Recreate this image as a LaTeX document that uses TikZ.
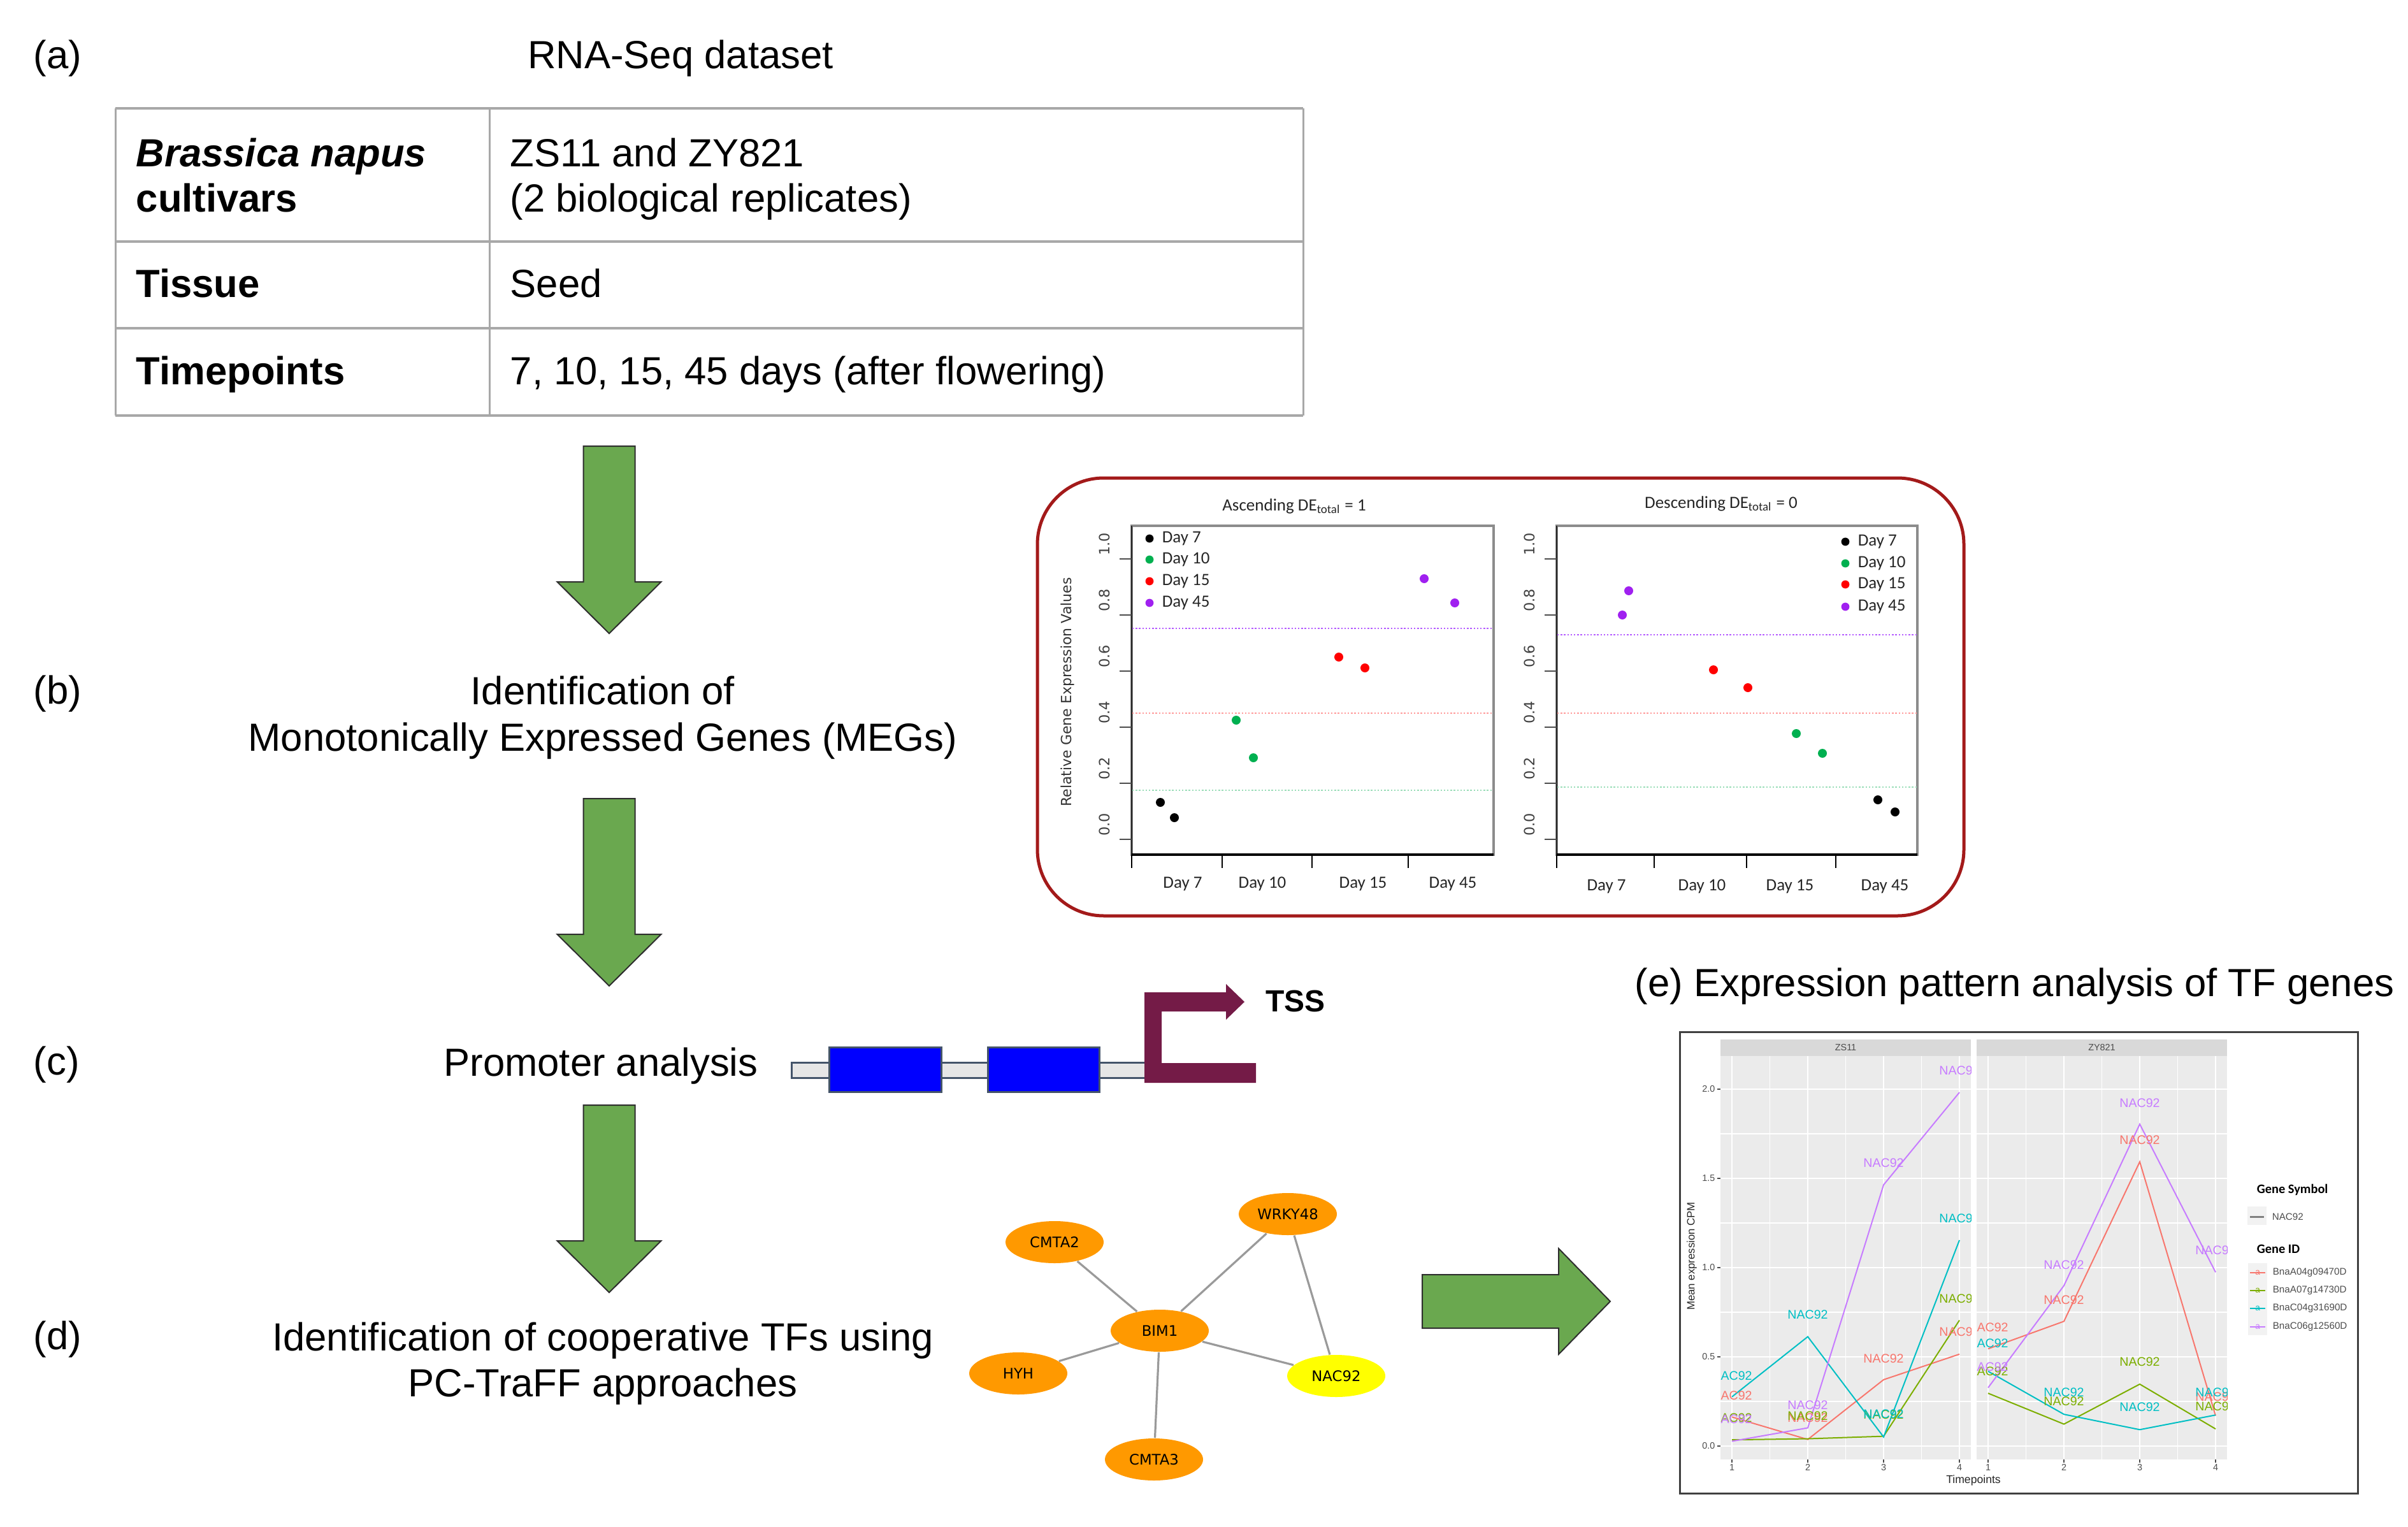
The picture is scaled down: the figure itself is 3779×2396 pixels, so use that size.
\documentclass[tikz,border=0pt]{standalone}
\usepackage{fontspec}
\setmainfont{Liberation Sans}
\newfontfamily\carl{Carlito}
\newfontfamily\dejav{DejaVu Sans}
\usetikzlibrary{shapes.geometric}
\definecolor{agreen}{HTML}{6AA84F}
\definecolor{aedge}{HTML}{2E2E2E}
\definecolor{tabgray}{HTML}{A8A8A8}
\definecolor{tssred}{HTML}{741B47}
\definecolor{slate}{HTML}{44546A}
\definecolor{bargray}{HTML}{E6E6E6}
\definecolor{tforange}{HTML}{FF9900}
\definecolor{tfyellow}{HTML}{FFFF00}
\definecolor{edgegray}{HTML}{9A9A9A}
\definecolor{frred}{HTML}{A31A1A}
\definecolor{dgreen}{HTML}{00B050}
\definecolor{dpurple}{HTML}{A020F0}
\definecolor{dred}{HTML}{FF0000}
\definecolor{lpurple}{HTML}{B45CFF}
\definecolor{lred}{HTML}{FF9A9A}
\definecolor{lgreen}{HTML}{9ADDB8}
\definecolor{panelgray}{HTML}{EBEBEB}
\definecolor{stripgray}{HTML}{D9D9D9}
\definecolor{gred}{HTML}{F8766D}
\definecolor{ggreen}{HTML}{7CAE00}
\definecolor{gcyan}{HTML}{00BFC4}
\definecolor{gpurple}{HTML}{C77CFF}
\definecolor{axgray}{HTML}{4D4D4D}
\definecolor{keygray}{HTML}{F2F2F2}
\newcommand\gdownarrow[2]{\draw[garrow] ({#1-40.5},#2) -- ({#1+40.5},#2) -- ({#1+40.5},{#2+213}) -- ({#1+81.5},{#2+213}) -- (#1,{#2+294}) -- ({#1-81.5},{#2+213}) -- ({#1-40.5},{#2+213}) -- cycle;}
\begin{document}
\begin{tikzpicture}[x=0.25pt,y=-0.25pt,
  txt/.style={font=\fontsize{15.4}{18}\selectfont, inner sep=0pt, anchor=base west},
  ctxt/.style={font=\fontsize{15.4}{18}\selectfont, inner sep=0pt, anchor=base},
  tb/.style={font=\fontsize{15.4}{18}\selectfont\bfseries, inner sep=0pt, anchor=base west},
  tline/.style={draw=tabgray, line width=0.75pt},
  hline/.style={draw=tabgray, line width=1pt},
  garrow/.style={fill=agreen, draw=aedge, line width=0.5pt, line join=miter},
  tf/.style={ellipse, fill=tforange, minimum width=38.5pt, minimum height=16.5pt, inner sep=0pt, font=\dejav\fontsize{5.7}{6}\selectfont},
  tfedge/.style={draw=edgegray, line width=0.8pt},
  cfont/.style={font=\carl\fontsize{6.75}{8}\selectfont, text=black!85, inner sep=0pt},
  ytk/.style={font=\dejav\fontsize{5.6}{6}\selectfont, text=black!75, inner sep=0pt, rotate=90},
  dotl/.style={line width=0.6pt, dash pattern=on 0.6pt off 0.7pt},
  pbox/.style={draw=black!45, line width=0.9pt},
  eline/.style={line width=0.5pt},
  elab/.style={font=\fontsize{4.9}{5}\selectfont, inner sep=0pt},
  etk/.style={font=\fontsize{3.6}{4}\selectfont, text=axgray, inner sep=0pt},
  lgt/.style={font=\carl\bfseries\fontsize{5.1}{6}\selectfont, inner sep=0pt, anchor=west},
  lgi/.style={font=\fontsize{3.8}{4}\selectfont, text=axgray, inner sep=0pt, anchor=west}
]
\useasboundingbox (0,0) rectangle (3779,2396);

% ---------- panel labels and step texts ----------
\node[txt] (la) at (52,108) {(a)};
\node[txt] (lb) at (52,1104) {(b)};
\node[txt] (lc) at (52,1686) {(c)};
\node[txt] (ld) at (52,2117) {(d)};
\node[ctxt] (title) at (1068,108) {RNA-Seq dataset};
\node[ctxt] (b1) at (946,1105) {Identification of};
\node[ctxt] (b2) at (946,1178) {Monotonically Expressed Genes (MEGs)};
\node[ctxt] (c1) at (943,1688) {Promoter analysis};
\node[ctxt] (d1) at (946,2119) {Identification of cooperative TFs using};
\node[ctxt] (d2) at (946,2191) {PC-TraFF approaches};
\node[txt] (etitle) at (2565,1563) {(e) Expression pattern analysis of TF genes};

% ---------- table ----------
\draw[tline] (181,170) -- (181,652);
\draw[tline] (2045,170) -- (2045,652);
\draw[tline] (768,170) -- (768,652);
\draw[hline] (181,170) -- (2045,170);
\draw[hline] (181,379) -- (2045,379);
\draw[hline] (181,515) -- (2045,515);
\draw[hline] (181,652) -- (2045,652);
\node[tb] (t1a) at (213,262) {\textit{Brassica napus}};
\node[tb] (t1b) at (213,333) {cultivars};
\node[txt] (t1c) at (800,262) {ZS11 and ZY821};
\node[txt] (t1d) at (800,333) {(2 biological replicates)};
\node[tb] (t2a) at (213,467) {Tissue};
\node[txt] (t2b) at (800,467) {Seed};
\node[tb] (t3a) at (213,603) {Timepoints};
\node[txt] (t3b) at (800,603) {7, 10, 15, 45 days (after flowering)};

% ---------- green arrows ----------
\gdownarrow{956}{700}
\gdownarrow{956}{1253}
\gdownarrow{956}{1734}
\draw[garrow] (2232,2000) -- (2446,2000) -- (2446,1959) -- (2527,2042) -- (2446,2125) -- (2446,2084) -- (2232,2084) -- cycle;

% ---------- promoter ----------
\draw[fill=bargray, draw=slate, line width=0.75pt] (1242,1667) rectangle (1800,1691);
\draw[fill=blue, draw=slate, line width=0.75pt] (1301,1643) rectangle (1477,1713);
\draw[fill=blue, draw=slate, line width=0.75pt] (1550,1643) rectangle (1725,1713);
\fill[tssred] (1796,1699) -- (1971,1699) -- (1971,1668) -- (1823,1668) -- (1823,1587) -- (1924,1587) -- (1924,1600) -- (1953,1572) -- (1924,1544) -- (1924,1557) -- (1796,1557) -- cycle;
\node[font=\fontsize{12}{14}\selectfont\bfseries, inner sep=0pt] (tss) at (2033,1571) {TSS};

% ---------- network ----------
\node[tf] (cmta2) at (1655,1949) {CMTA2};
\node[tf] (wrky) at (2021,1905) {WRKY48};
\node[tf] (bim) at (1820,2088) {BIM1};
\node[tf] (hyh) at (1598,2155) {HYH};
\node[tf, fill=tfyellow] (nac) at (2097,2159) {NAC92};
\node[tf] (cmta3) at (1811,2290) {CMTA3};
\draw[tfedge] (bim) -- (cmta2);
\draw[tfedge] (bim) -- (wrky);
\draw[tfedge] (bim) -- (hyh);
\draw[tfedge] (bim) -- (nac);
\draw[tfedge] (bim) -- (cmta3);
\draw[tfedge] (wrky) -- (nac);

% ---------- panel (b) plots ----------
\draw[frred, line width=1.25pt, rounded corners=26pt] (1628,750) rectangle (3082,1437);
\node[cfont] (pt1) at (2031,794) {Ascending DE\textsubscript{total} = 1};
\node[cfont] (pt2) at (2701,790) {Descending DE\textsubscript{total} = 0};
\node[font=\dejav\fontsize{5.5}{6}\selectfont, text=black!80, inner sep=0pt, rotate=90] (ylab) at (1675,1086) {Relative Gene Expression Values};
% boxes
\draw[pbox] (1776,825) rectangle (2344,1341);
\draw[pbox] (2443,825) rectangle (3009,1341);
\draw[black!85, line width=0.5pt] (1776,825) -- (1776,1341);
\draw[black!85, line width=0.5pt] (2443,825) -- (2443,1341);
\draw[black, line width=0.9pt] (1776,1341) -- (2344,1341);
\draw[black, line width=0.9pt] (2443,1341) -- (3009,1341);
% y ticks
\foreach \v/\l [count=\i] in {0/0.0,0.2/0.2,0.4/0.4,0.6/0.6,0.8/0.8,1/1.0} {
  \draw[black!70, line width=0.5pt] (1757,{1317-440*\v}) -- (1776,{1317-440*\v});
  \draw[black!70, line width=0.5pt] (2424,{1317-440*\v}) -- (2443,{1317-440*\v});
  \node[ytk] (yl\i) at (1733,{1294-440*\v}) {\l};
  \node[ytk] (yr\i) at (2400,{1294-440*\v}) {\l};
}
% x ticks
\foreach \xx in {1776,1918,2059,2210,2443,2596,2741,2881}
  \draw[black, line width=0.5pt] (\xx,1341) -- (\xx,1362);
\foreach \xx/\l [count=\i] in {1856/Day 7,1981/Day 10,2139/Day 15,2280/Day 45}
  \node[cfont] (xl\i) at (\xx,1387) {\l};
\foreach \xx/\l [count=\i] in {2521/Day 7,2671/Day 10,2809/Day 15,2958/Day 45}
  \node[cfont] (xr\i) at (\xx,1391) {\l};
% dotted thresholds
\draw[dotl, lpurple] (1777,986) -- (2343,986);
\draw[dotl, lred] (1777,1119) -- (2343,1119);
\draw[dotl, lgreen] (1777,1240) -- (2343,1240);
\draw[dotl, lpurple] (2444,996) -- (3008,996);
\draw[dotl, lred] (2444,1119) -- (3008,1119);
\draw[dotl, lgreen] (2444,1235) -- (3008,1235);
% legends
\foreach \yy/\c/\l [count=\i] in {845/black/Day 7,878/dgreen/Day 10,912/dred/Day 15,946/dpurple/Day 45} {
  \fill[\c] (1804,\yy) circle[radius=1.6pt];
  \node[cfont, anchor=west] (lgl\i) at (1823,\yy) {\l};
}
\foreach \yy/\c/\l [count=\i] in {850/black/Day 7,884/dgreen/Day 10,917/dred/Day 15,952/dpurple/Day 45} {
  \fill[\c] (2896,\yy) circle[radius=1.6pt];
  \node[cfont, anchor=west] (lgr\i) at (2915,\yy) {\l};
}
% data points
\foreach \px/\py/\c in {1821/1259/black,1843/1283/black,1940/1130/dgreen,1967/1189/dgreen,2101/1031/dred,2142/1048/dred,2235/908/dpurple,2283/946/dpurple,
  2556/927/dpurple,2546/965/dpurple,2689/1051/dred,2743/1079/dred,2819/1151/dgreen,2860/1182/dgreen,2947/1255/black,2974/1274/black}
  \fill[\c] (\px,\py) circle[radius=1.75pt];

% ---------- panel (e) chart ----------
\draw[black!75, line width=0.75pt] (2636,1619) rectangle (3700,2343);
\foreach \sx/\st [count=\k] in {2599/ZS11,3001/ZY821} {
\begin{scope}[shift={(\sx,2269)}, x={(29.75pt,0pt)}, y={(0pt,70pt)}]
  \fill[panelgray] (0.849,-0.075) rectangle (4.151,2.186);
  \fill[stripgray] (0.849,2.186) rectangle (4.151,2.279);
  \node[etk, text=black!70] (strip\k) at (2.5,2.233) {\st};
  \foreach \g in {0.25,0.75,1.25,1.75} \draw[white, line width=0.3pt] (0.849,\g) -- (4.151,\g);
  \foreach \g in {1.5,2.5,3.5} \draw[white, line width=0.3pt] (\g,-0.075) -- (\g,2.186);
  \foreach \g in {0,0.5,1,1.5,2} \draw[white, line width=0.6pt] (0.849,\g) -- (4.151,\g);
  \foreach \g in {1,2,3,4} {
    \draw[white, line width=0.6pt] (\g,-0.075) -- (\g,2.186);
    \draw[axgray, line width=0.3pt] (\g,-0.075) -- (\g,-0.094);
    \node[etk] (xt\k\g) at (\g,-0.121) {\g};
  }
\end{scope}
}
\begin{scope}[shift={(2599,2269)}, x={(29.75pt,0pt)}, y={(0pt,70pt)}]
  \foreach \g/\l [count=\i] in {0/0.0,0.5/0.5,1/1.0,1.5/1.5,2/2.0} {
    \draw[axgray, line width=0.3pt] (0.807,\g) -- (0.849,\g);
    \node[etk, anchor=east] (yt\i) at (0.782,\g) {\l};
  }
  \begin{scope}
    \clip (0.849,-0.075) rectangle (4.151,2.186);
    \draw[eline, gred] (1,0.163) -- (2,0.037) -- (3,0.372) -- (4,0.515);
    \draw[eline, ggreen] (1,0.035) -- (2,0.041) -- (3,0.055) -- (4,0.705);
    \draw[eline, gcyan] (1,0.276) -- (2,0.613) -- (3,0.051) -- (4,1.154);
    \draw[eline, gpurple] (1,0.027) -- (2,0.102) -- (3,1.464) -- (4,1.982);
    \foreach \t/\v [count=\i] in {1/0.282,2/0.157,3/0.490,4/0.639} \node[elab, text=gred] (ar\i) at (\t,\v) {NAC92};
    \foreach \t/\v [count=\i] in {1/0.157,2/0.168,3/0.175,4/0.827} \node[elab, text=ggreen] (ag\i) at (\t,\v) {NAC92};
    \foreach \t/\v [count=\i] in {1/0.394,2/0.735,3/0.178,4/1.277} \node[elab, text=gcyan] (ac\i) at (\t,\v) {NAC92};
    \foreach \t/\v [count=\i] in {1/0.150,2/0.229,3/1.587,4/2.104} \node[elab, text=gpurple] (ap\i) at (\t,\v) {NAC92};
  \end{scope}
\end{scope}
\begin{scope}[shift={(3001,2269)}, x={(29.75pt,0pt)}, y={(0pt,70pt)}]
  \begin{scope}
    \clip (0.849,-0.075) rectangle (4.151,2.186);
    \draw[eline, gred] (1,0.545) -- (2,0.699) -- (3,1.593) -- (4,0.170);
    \draw[eline, ggreen] (1,0.296) -- (2,0.123) -- (3,0.347) -- (4,0.096);
    \draw[eline, gcyan] (1,0.419) -- (2,0.178) -- (3,0.092) -- (4,0.174);
    \draw[eline, gpurple] (1,0.327) -- (2,0.899) -- (3,1.804) -- (4,0.974);
    \foreach \t/\v [count=\i] in {1/0.664,2/0.819,3/1.716,4/0.276} \node[elab, text=gred] (br\i) at (\t,\v) {NAC92};
    \foreach \t/\v [count=\i] in {1/0.419,2/0.251,3/0.474,4/0.221} \node[elab, text=ggreen] (bg\i) at (\t,\v) {NAC92};
    \foreach \t/\v [count=\i] in {1/0.576,2/0.302,3/0.219,4/0.302} \node[elab, text=gcyan] (bc\i) at (\t,\v) {NAC92};
    \foreach \t/\v [count=\i] in {1/0.443,2/1.017,3/1.924,4/1.097} \node[elab, text=gpurple] (bp\i) at (\t,\v) {NAC92};
  \end{scope}
\end{scope}
\node[font=\fontsize{4.4}{5}\selectfont, text=black!85, inner sep=0pt] (xtitle) at (3097,2323) {Timepoints};
\node[font=\fontsize{4.2}{5}\selectfont, text=black!85, inner sep=0pt, rotate=90] (ytitle) at (2655,1971) {Mean expression CPM};
% legend
\node[lgt] (lg1) at (3541,1867) {Gene Symbol};
\fill[keygray] (3527,1893) rectangle (3557,1922);
\draw[black!50, line width=0.75pt] (3531,1909) -- (3553,1909);
\node[lgi] (lg2) at (3565,1909) {NAC92};
\node[lgt] (lg3) at (3541,1960) {Gene ID};
\fill[keygray] (3528,1982) rectangle (3558,2095);
\foreach \yy/\c/\l [count=\i] in {1997/gred/BnaA04g09470D,2025/ggreen/BnaA07g14730D,2053/gcyan/BnaC04g31690D,2082/gpurple/BnaC06g12560D} {
  \draw[\c, line width=0.6pt] (3531,\yy) -- (3555,\yy);
  \node[font=\fontsize{3.4}{4}\selectfont, text=\c, inner sep=0pt] (ka\i) at (3543,\yy) {a};
  \node[lgi] (lgk\i) at (3566,\yy) {\l};
}
\end{tikzpicture}
\end{document}
